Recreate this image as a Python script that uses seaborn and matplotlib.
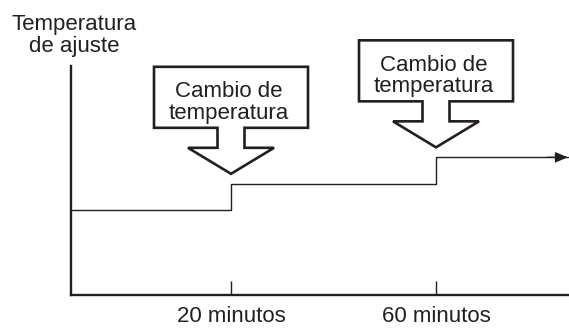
import matplotlib
matplotlib.use("Agg")
import matplotlib.pyplot as plt
import matplotlib.transforms as mtransforms
from matplotlib.patches import Polygon
import seaborn as sns

# === DATOS (esquema) ===
tiempos_cambio = [20, 60]              # minutos
niveles = [22, 23, 24]                 # temperatura de ajuste (esquemática)
t_inicio, t_fin = -11.0, 85.7
etiquetas_x = ["20 minutos", "60 minutos"]
texto_cambio = "Cambio de\ntemperatura"
titulo_y = "Temperatura\nde ajuste"

tinta = "#231f20"

sns.set_theme(style="white")
plt.rcParams["font.family"] = ["Liberation Sans", "DejaVu Sans"]

fig = plt.figure(figsize=(5.69, 3.28), dpi=100)
ax = fig.add_axes([71 / 569, 33 / 328, 498 / 569, 229 / 328])

# === LÍNEA ESCALONADA ===
xs = [t_inicio] + tiempos_cambio + [t_fin]
ys = niveles + [niveles[-1]]
sns.lineplot(x=xs, y=ys, drawstyle="steps-post", color=tinta, lw=1.0, ax=ax)
ax.annotate("", xy=(t_fin, niveles[-1]), xytext=(t_fin - 4, niveles[-1]),
            arrowprops=dict(arrowstyle="-|>,head_length=0.75,head_width=0.32",
                            color=tinta, lw=1.0, shrinkA=0, shrinkB=0,
                            mutation_scale=10))

ax.set_xlim(-11.22, 85.95)
ax.set_ylim(18.8, 27.45)

# === EJES ===
for s in ["top", "right"]:
    ax.spines[s].set_visible(False)
for s in ["left", "bottom"]:
    ax.spines[s].set_color(tinta)
    ax.spines[s].set_linewidth(1.7)
ax.set_yticks([])
ax.set_xticks(tiempos_cambio)
ax.set_xticklabels(etiquetas_x, fontsize=16, color=tinta)
ax.tick_params(axis="x", direction="in", length=10, width=1.0, color=tinta,
               pad=8, bottom=True)
ax.set_xlabel("")
ax.set_ylabel("")

# título del eje y (línea inferior con base a 52 px del borde)
fig.text(74 / 569, 1 - 52 / 328, titulo_y, ha="center", va="baseline",
         fontsize=16, color=tinta, linespacing=1.05)

# === FLECHAS "CAMBIO DE TEMPERATURA" ===
forma = [(-77, 107), (77, 107), (77, 46), (13.5, 46), (13.5, 26), (43, 26),
         (0, 0), (-43, 26), (-13.5, 26), (-13.5, 46), (-77, 46)]
hueco = 10
for t, nivel in zip(tiempos_cambio, niveles[1:]):
    tr = (mtransforms.Affine2D().translate(0, hueco).scale(1 / fig.dpi)
          + fig.dpi_scale_trans
          + mtransforms.ScaledTranslation(t, nivel, ax.transData))
    ax.add_patch(Polygon(forma, closed=True, transform=tr, facecolor="white",
                         edgecolor=tinta, lw=1.9, joinstyle="miter",
                         clip_on=False, zorder=3))
    tr_txt = mtransforms.offset_copy(ax.transData, fig, x=-2, y=hueco + 55,
                                     units="dots")
    ax.text(t, nivel, texto_cambio, transform=tr_txt, ha="center",
            va="baseline", fontsize=16, color=tinta, linespacing=1.05,
            zorder=4)

fig.savefig("out.png", dpi=100)
